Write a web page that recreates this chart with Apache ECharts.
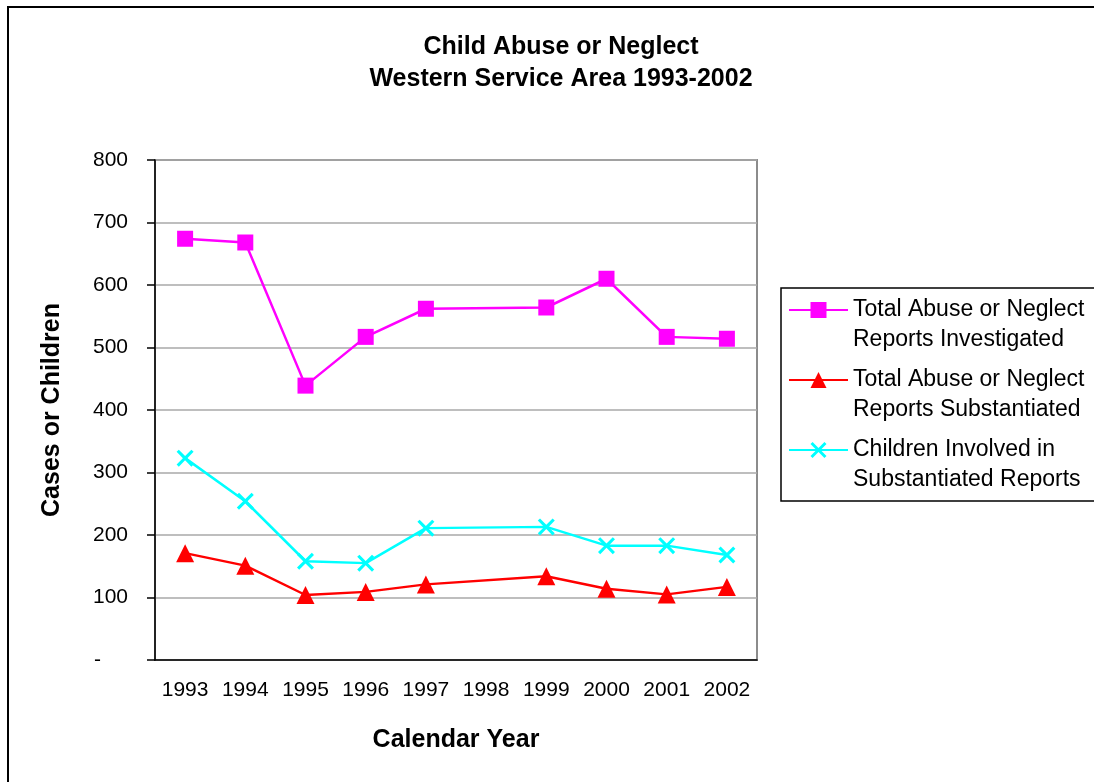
<!DOCTYPE html>
<html>
<head>
<meta charset="utf-8">
<title>Child Abuse or Neglect</title>
<script src="https://cdn.jsdelivr.net/npm/echarts@6/dist/echarts.min.js"></script>
<style>
  html, body { margin: 0; padding: 0; background: #fff; }
  #chart { width: 1094px; height: 782px; }
</style>
</head>
<body>
<div id="chart"></div>
<script>
// 数据 (1998 无数据, 折线直接连接 1997 与 1999)
const years = ['1993', '1994', '1995', '1996', '1997', '1998', '1999', '2000', '2001', '2002'];
const investigated = [674, 668, 439, 517, 562, null, 564, 610, 517, 514];
const substantiated = [171, 151, 104, 109, 121, null, 134, 114, 105, 117];
const childrenInvolved = [323, 254, 158, 155, 211, null, 213, 183, 183, 168];
const seriesNames = [
  'Total Abuse or Neglect\nReports Investigated',
  'Total Abuse or Neglect\nReports Substantiated',
  'Children Involved in\nSubstantiated Reports'
];
const yMin = 0;
const yMax = 800;
const yStep = 100;

const FONT = '"Liberation Sans", Arial, sans-serif';
// X 形标记 (填充的交叉形状)
const crossSymbol = 'path://M0,1.3L1.3,0L5,3.7L8.7,0L10,1.3L6.3,5L10,8.7L8.7,10L5,6.3L1.3,10L0,8.7L3.7,5Z';

function makeSeries(name, data, color, symbol, size) {
  return {
    name: name,
    type: 'line',
    data: data,
    connectNulls: true,
    symbol: symbol,
    symbolSize: size,
    showAllSymbol: true,
    lineStyle: { color: color, width: 2.5 },
    itemStyle: { color: color },
    emphasis: { disabled: true },
    z: 3
  };
}

const chart = echarts.init(document.getElementById('chart'));
chart.setOption({
  animation: false,
  backgroundColor: '#fff',
  textStyle: { fontFamily: FONT },
  title: {
    text: 'Child Abuse or Neglect\nWestern Service Area 1993-2002',
    left: 561,
    top: 31,
    padding: 0,
    textAlign: 'center',
    textStyle: { fontFamily: FONT, fontSize: 25, fontWeight: 'bold', color: '#000', lineHeight: 32 }
  },
  graphic: [{
    // 外框
    type: 'rect',
    shape: { x: 8, y: 7, width: 1200, height: 900 },
    style: { fill: 'none', stroke: '#000', lineWidth: 2 },
    silent: true
  }, {
    // 图例边框
    type: 'rect',
    shape: { x: 781, y: 288, width: 400, height: 213 },
    style: { fill: 'none', stroke: '#000', lineWidth: 1.5 },
    silent: true
  }],
  legend: {
    orient: 'vertical',
    left: 781,
    top: 265,
    padding: [0, 40, 0, 7],
    itemWidth: 59,
    itemHeight: 20,
    itemGap: -20,
    selectedMode: false,
    // 首行与图标对齐: 前面加一个空行
    formatter: name => '\n' + name,
    textStyle: { fontFamily: FONT, fontSize: 23, color: '#000', lineHeight: 30 },
    data: seriesNames
  },
  grid: {
    left: 155,
    top: 160,
    right: 337,
    bottom: 122,
    show: true,
    borderColor: '#8c8c8c',
    borderWidth: 2,
    containLabel: false
  },
  xAxis: {
    type: 'category',
    data: years,
    boundaryGap: true,
    name: 'Calendar Year',
    nameLocation: 'middle',
    nameGap: 68,
    nameTextStyle: { fontFamily: FONT, fontSize: 25, fontWeight: 'bold', color: '#000' },
    axisLine: { lineStyle: { color: '#000', width: 1.5 } },
    axisTick: { alignWithLabel: false, length: 6, lineStyle: { color: '#000', width: 1.5 } },
    axisLabel: { fontFamily: FONT, fontSize: 21, color: '#000', margin: 20, interval: 0 },
    splitLine: { show: false }
  },
  yAxis: {
    type: 'value',
    min: yMin,
    max: yMax,
    interval: yStep,
    name: 'Cases or Children',
    nameLocation: 'middle',
    nameGap: 90,
    nameTextStyle: { fontFamily: FONT, fontSize: 25, fontWeight: 'bold', color: '#000' },
    axisLine: { show: true, lineStyle: { color: '#000', width: 1.5 } },
    axisTick: { show: true, length: 8, lineStyle: { color: '#000', width: 1.5 } },
    axisLabel: {
      fontFamily: FONT,
      fontSize: 21,
      color: '#000',
      margin: 27,
      formatter: v => v === 0 ? '{d|-}' : String(v),
      rich: { d: { fontFamily: FONT, fontSize: 21, color: '#000', padding: [0, 27, 0, 0] } }
    },
    splitLine: { show: true, lineStyle: { color: '#a8a8a8', width: 1.5 } }
  },
  series: [
    makeSeries(seriesNames[0], investigated, '#ff00ff', 'rect', 16),
    makeSeries(seriesNames[1], substantiated, '#ff0000', 'triangle', 18),
    makeSeries(seriesNames[2], childrenInvolved, '#00ffff', crossSymbol, 17)
  ]
});
</script>
</body>
</html>
